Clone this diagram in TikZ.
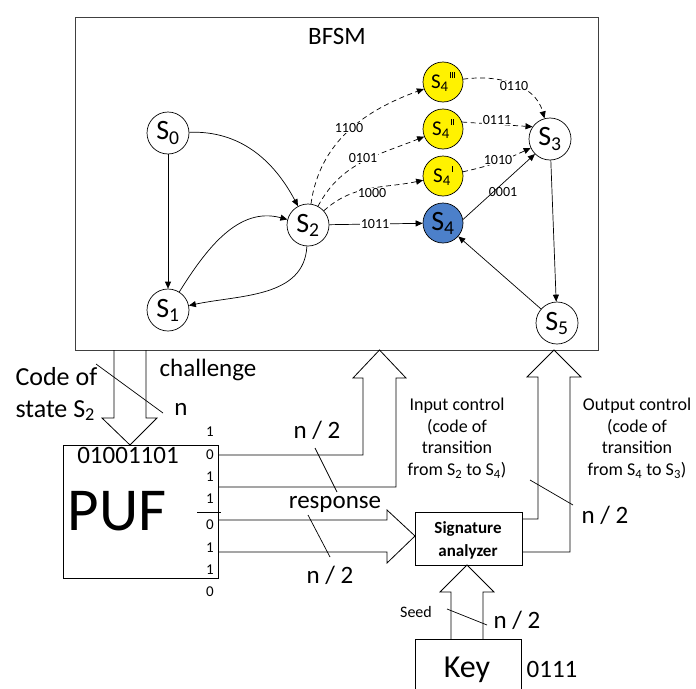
\documentclass[tikz,border=0pt]{standalone}
\usepackage{fontspec}
\setmainfont{Carlito}
\usetikzlibrary{arrows.meta}
\newcommand\fsz[2]{\fontsize{#1}{#2}\selectfont}
\newcommand\tick{\kern1.2pt\rule[.5em]{.9pt}{.28em}}
\definecolor{altyellow}{RGB}{255,242,0}
\definecolor{mainblue}{RGB}{76,128,202}
\tikzset{>={Triangle[length=7pt,width=6pt]},every node/.style={font=\fsz{25}{30}},
 state/.style={draw,circle,line width=.7pt,minimum size=42pt,inner sep=0pt,font=\fsz{28}{30}},
 alt/.style={state,minimum size=40pt,fill=altyellow,font=\fsz{21}{24}},
 flow/.style={->,line width=.7pt},alttrans/.style={flow,dash pattern=on 5pt off 3.5pt},
 code/.style={font=\fsz{14}{16},fill=white,inner sep=.6pt},
 box/.style={draw,line width=.8pt,inner sep=0pt,anchor=north west},
 hollow/.style={line width=.8pt},slash/.style={line width=.7pt},
 note/.style={font=\fsz{18}{21.7},align=center}}

\begin{document}
\begin{tikzpicture}[x=1pt,y=1pt]
\fill[white] (0,0) rectangle (696,-688);\useasboundingbox (0,0) rectangle (696,-688);
% BFSM
\node[box,draw=black!75,minimum width=523pt,minimum height=333pt] (bfsm) at (75,-17) {};\node (title) at (337,-36) {BFSM};
\node[state] (s0) at (168,-133) {S\textsubscript{0}};\node[state] (s1) at (168,-310) {S\textsubscript{1}};
\node[state] (s2) at (308,-225) {S\textsubscript{2}};\node[state] (s3) at (550,-139) {S\textsubscript{3}};
\node[state,minimum size=40pt,fill=mainblue] (s4) at (443,-223) {S\textsubscript{4}};\node[state] (s5) at (557,-323) {S\textsubscript{5}};
\node[alt] (s4a) at (443,-176) {S\textsubscript{4}\tick};
\node[alt] (s4b) at (443,-129) {S\textsubscript{4}\tick\tick};
\node[alt] (s4c) at (443,-82) {S\textsubscript{4}\tick\tick\tick};
\draw[flow] (s0) -- (s1);\draw[flow] (s0) to[out=2,in=118] (s2);
\draw[flow] (s1) to[out=58,in=165] (s2);\draw[flow] (s2) to[out=-93,in=12] (s1);
\draw[flow] (s2) -- (s4);\draw[flow] (s4.10) -- (s3.225);\draw[flow] (s3) -- (s5);\draw[flow] (s5) -- (s4);
\draw[alttrans] (s2) to[out=42,in=192] (s4a);\draw[alttrans] (s2) to[out=62,in=202] (s4b);
\draw[alttrans] (s2) to[out=82,in=200] (s4c);\draw[alttrans] (s4c) to[out=8,in=105] (s3);
\draw[alttrans] (s4b.20) -- (s3.145);\draw[alttrans] (s4a) to[out=12,in=205] (s3);
\node[code] (c1100) at (349,-128) {1100};\node[code] (c0101) at (363,-158) {0101};
\node[code] (c1000) at (372,-193) {1000};\node[code] (c1011) at (375,-224) {1011};
\node[code] (c0110) at (514,-86) {0110};\node[code] (c0111) at (497,-120) {0111};
\node[code] (c1010) at (498,-160) {1010};\node[code,fill=none] (c0001) at (503,-192) {0001};
% PUF
\node[box,minimum width=155pt,minimum height=133pt] (puf) at (63,-445) {};
\node (pufcode) at (128,-455) {01001101};\node[font=\fsz{61}{70}] (pufname) at (117,-511) {PUF};
\foreach \b/\y [count=\i] in {1/432,0/455,1/477,1/499,0/525,1/548,1/570,0/592}
  \node[font=\fsz{15}{18},inner sep=0pt] (bit\i) at (210,-\y) {\b};
\draw[slash] (197,-512) -- (221,-512);
\draw[hollow] (114,-350) -- (114,-418) -- (102,-418) -- (130,-445) -- (157,-418) -- (146,-418) -- (146,-350);
\draw[slash] (96,-364) -- (163,-413);
\node[align=left,anchor=west,font=\fsz{26}{32}] (codeof) at (12,-394) {Code of\\state S\textsubscript{2}};
\node (chal) at (208,-370) {challenge};\node (nchal) at (181,-409) {n};
% response
\draw[hollow] (218,-455) -- (363,-455) -- (363,-378) -- (353,-378) -- (379.5,-350) -- (406,-378) -- (396,-378) -- (396,-487) -- (218,-487);
\draw[hollow] (218,-520) -- (387,-520) -- (387,-510) -- (415,-536) -- (387,-563) -- (387,-552) -- (218,-552);
\node (nin) at (317,-430) {n / 2};\draw[slash] (315,-448) -- (337,-492);
\node (resp) at (335,-504) {response};\draw[slash] (308,-515) -- (330,-557);
\node (nsig) at (330,-575) {n / 2};
% analyzer
\node[box,minimum width=107pt,minimum height=53pt] (sa) at (415,-512) {};
\node[font=\fsz{17}{23}\bfseries,align=center] (satext) at (468,-540) {Signature\\analyzer};
\draw[hollow] (522,-519) -- (538,-519) -- (538,-377) -- (527,-377) -- (554,-350) -- (581,-377) -- (570,-377) -- (570,-552) -- (522,-552);
\node[note] (inctl) at (457,-438) {Input control\\(code of\\transition\\from S\textsubscript{2} to S\textsubscript{4})};
\node[note] (outctl) at (637,-438) {Output control\\(code of\\transition\\from S\textsubscript{4} to S\textsubscript{3})};
\draw[slash] (530,-480) -- (573,-505);\node (nout) at (605,-515) {n / 2};
% key
\node[box,minimum width=106pt,minimum height=70pt] (key) at (415,-639) {};
\node[font=\fsz{32}{36},anchor=base] (keyname) at (467,-677) {Key};\node[anchor=base] (keycode) at (552,-677) {0111};
\draw[hollow] (451,-639) -- (451,-592) -- (440,-592) -- (467,-565) -- (494,-592) -- (483,-592) -- (483,-639);
\node[font=\fsz{16}{19}] (seed) at (416,-612) {Seed};\draw[slash] (447,-609) -- (487,-625);
\node (nkey) at (517,-620) {n / 2};
\end{tikzpicture}
\end{document}
